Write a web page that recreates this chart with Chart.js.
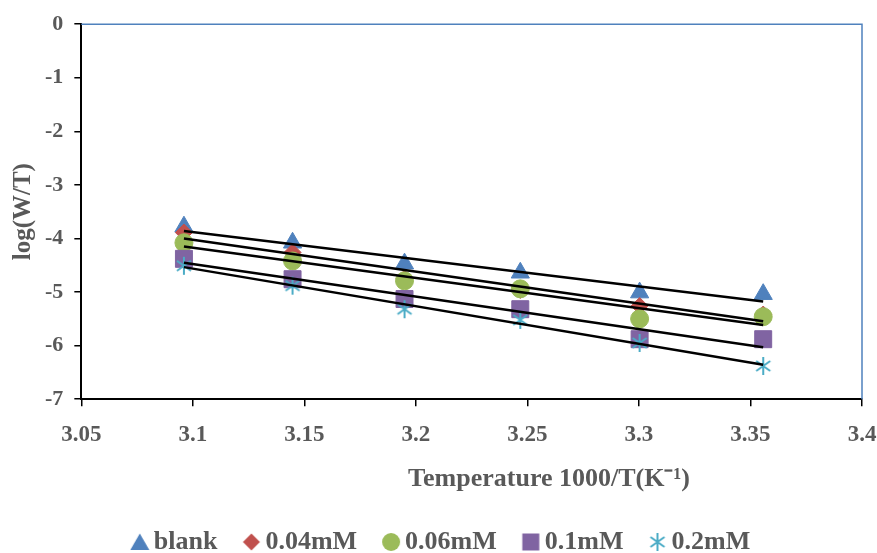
<!DOCTYPE html>
<html>
<head>
<meta charset="utf-8">
<script src="https://cdn.jsdelivr.net/npm/chart.js@4.4.0/dist/chart.umd.min.js"></script>
<style>
    html, body { margin: 0; padding: 0; background: #fff; }
    #wrap { width: 877px; height: 553px; }
</style>
</head>
<body>
<div id="wrap"><canvas id="arrheniusChart" width="877" height="553"></canvas></div>
<script>
// 1000/T values (K^-1) for T = 323, 318, 313, 308, 303, 298 K
const invTemp = [3.0960, 3.1447, 3.1949, 3.2468, 3.3003, 3.3557];

// log(W/T) per inhibitor concentration
const blank = [-3.78, -4.08, -4.47, -4.64, -5.01, -5.04];
const conc004 = [-3.89, -4.26, -4.75, -4.96, -5.26, -5.42];
const conc006 = [-4.08, -4.42, -4.79, -4.94, -5.50, -5.46];
const conc01 = [-4.38, -4.76, -5.13, -5.32, -5.88, -5.88];
const conc02 = [-4.51, -4.88, -5.32, -5.52, -5.95, -6.38];

const seriesNames = ['blank', '0.04mM', '0.06mM', '0.1mM', '0.2mM'];
const seriesColors = ['#4F81BD', '#C0504D', '#9BBB59', '#8064A2', '#4BACC6'];

const xTicks = [3.05, 3.1, 3.15, 3.2, 3.25, 3.3, 3.35, 3.4];
const yTicks = [0, -1, -2, -3, -4, -5, -6, -7];
const xTitle = 'Temperature 1000/T(K⁻¹)';

const textGray = '#595959';
const serif = '"Liberation Serif", "Times New Roman", serif';

document.addEventListener('DOMContentLoaded', function () {
    // small canvas icons, used for the asterisk marker and the legend keys
    function icon(kind, color) {
        const c = document.createElement('canvas');
        c.width = 20; c.height = 20;
        const g = c.getContext('2d');
        g.fillStyle = color;
        g.strokeStyle = color;
        g.lineWidth = 2;
        g.beginPath();
        if (kind === 'triangle') {
            g.moveTo(10, 1.5); g.lineTo(19.5, 18); g.lineTo(0.5, 18); g.closePath(); g.fill();
        } else if (kind === 'diamond') {
            g.moveTo(10, 1.5); g.lineTo(18.5, 10); g.lineTo(10, 18.5); g.lineTo(1.5, 10); g.closePath(); g.fill();
        } else if (kind === 'circle') {
            g.arc(10, 10, 9, 0, Math.PI * 2); g.fill();
        } else if (kind === 'square') {
            g.rect(1.5, 1.5, 17, 17); g.fill();
        } else {
            g.moveTo(10, 1); g.lineTo(10, 19);
            g.moveTo(3, 5); g.lineTo(17, 15);
            g.moveTo(17, 5); g.lineTo(3, 15);
            g.stroke();
        }
        return c;
    }

    // least squares line over the points of one series
    function trend(ys) {
        const n = invTemp.length;
        const mx = invTemp.reduce((s, v) => s + v, 0) / n;
        const my = ys.reduce((s, v) => s + v, 0) / n;
        let sxy = 0, sxx = 0;
        invTemp.forEach((x, i) => { sxy += (x - mx) * (ys[i] - my); sxx += (x - mx) * (x - mx); });
        const b = sxy / sxx;
        const x0 = invTemp[0], x1 = invTemp[n - 1];
        return [{ x: x0, y: my + b * (x0 - mx) }, { x: x1, y: my + b * (x1 - mx) }];
    }

    const allSeries = [blank, conc004, conc006, conc01, conc02];
    const styles = ['triangle', 'rectRot', 'circle', 'rect', icon('asterisk', seriesColors[4])];
    const radii = [10.5, 8.5, 9, 12, 10];
    const legendIcons = ['triangle', 'diamond', 'circle', 'square', 'asterisk'].map((k, i) => icon(k, seriesColors[i]));

    const markerSets = allSeries.map((ys, i) => ({
        type: 'scatter',
        label: seriesNames[i],
        data: ys.map((y, j) => ({ x: invTemp[j], y: y })),
        pointStyle: styles[i],
        pointRadius: radii[i],
        pointHoverRadius: radii[i],
        backgroundColor: seriesColors[i],
        borderColor: seriesColors[i],
        borderWidth: 1,
        order: 10 - i
    }));

    const trendSets = allSeries.map((ys) => ({
        type: 'line',
        label: 'trend',
        data: trend(ys),
        borderColor: '#000',
        borderWidth: 2.5,
        pointRadius: 0,
        fill: false,
        order: 0
    }));

    // blue edge on top and right of the plot area
    const frameEdges = {
        id: 'frameEdges',
        beforeDatasetsDraw(chart) {
            const { ctx, chartArea: a } = chart;
            ctx.save();
            ctx.strokeStyle = '#4F81BD';
            ctx.lineWidth = 1.5;
            ctx.beginPath();
            ctx.moveTo(a.left, a.top);
            ctx.lineTo(a.right, a.top);
            ctx.lineTo(a.right, a.bottom);
            ctx.stroke();
            ctx.restore();
        }
    };

    // the x title sits right of centre in the original, so draw it by hand
    // (the scale title stays in place, transparent, to keep the spacing)
    const shiftedTitle = {
        id: 'shiftedTitle',
        afterLayout(chart) {
            // nudge the legend row a little to the right too
            chart.legend.left += 9;
            chart.legend.right += 9;
        },
        afterDraw(chart) {
            const { ctx } = chart;
            const sx = chart.scales.x;
            ctx.save();
            ctx.fillStyle = textGray;
            ctx.font = 'bold 26px ' + serif;
            ctx.textAlign = 'center';
            ctx.textBaseline = 'middle';
            ctx.fillText(xTitle, 549, sx.bottom - 1 - 15.6);
            ctx.restore();
        }
    };

    const ctx = document.getElementById('arrheniusChart').getContext('2d');
    new Chart(ctx, {
        type: 'scatter',
        data: { datasets: markerSets.concat(trendSets) },
        plugins: [frameEdges, shiftedTitle],
        options: {
            responsive: false,
            animation: false,
            layout: { padding: { left: 9, right: 15, top: 15, bottom: -12 } },
            scales: {
                x: {
                    type: 'linear',
                    min: 3.05,
                    max: 3.4,
                    afterBuildTicks: (s) => { s.ticks = xTicks.map(v => ({ value: v })); },
                    afterFit: (s) => { s.paddingRight = 0; },
                    grid: { drawOnChartArea: false, drawTicks: true, tickLength: 7, color: '#000', lineWidth: 1.5 },
                    border: { color: '#000', width: 2 },
                    ticks: {
                        color: textGray,
                        font: { family: serif, size: 23, weight: 'bold' },
                        padding: 15,
                        maxRotation: 0,
                        callback: (v) => String(+v.toFixed(2))
                    },
                    title: {
                        display: true,
                        text: xTitle,
                        color: 'rgba(0,0,0,0)',
                        font: { family: serif, size: 26, weight: 'bold' },
                        padding: { top: 0, bottom: 1 }
                    }
                },
                y: {
                    min: -7,
                    max: 0,
                    afterBuildTicks: (s) => { s.ticks = yTicks.map(v => ({ value: v })); },
                    grid: { drawOnChartArea: false, drawTicks: true, tickLength: 7, color: '#000', lineWidth: 1.5 },
                    border: { color: '#000', width: 2 },
                    ticks: {
                        color: textGray,
                        font: { family: serif, size: 22, weight: 'bold' },
                        padding: 11
                    },
                    title: {
                        display: true,
                        text: 'log(W/T)',
                        color: textGray,
                        font: { family: serif, size: 25, weight: 'bold' },
                        padding: { top: 0, bottom: -5 }
                    }
                }
            },
            plugins: {
                tooltip: { enabled: false },
                legend: {
                    position: 'bottom',
                    labels: {
                        usePointStyle: true,
                        pointStyleWidth: 2,
                        boxHeight: 14,
                        padding: 33,
                        color: textGray,
                        font: { family: serif, size: 26, weight: 'bold' },
                        generateLabels: (chart) => Chart.defaults.plugins.legend.labels.generateLabels(chart)
                            .map(item => Object.assign(item, { pointStyle: legendIcons[item.datasetIndex] || item.pointStyle })),
                        filter: (item) => item.datasetIndex < seriesNames.length,
                        sort: (a, b) => a.datasetIndex - b.datasetIndex
                    }
                }
            }
        }
    });
});
</script>
</body>
</html>
